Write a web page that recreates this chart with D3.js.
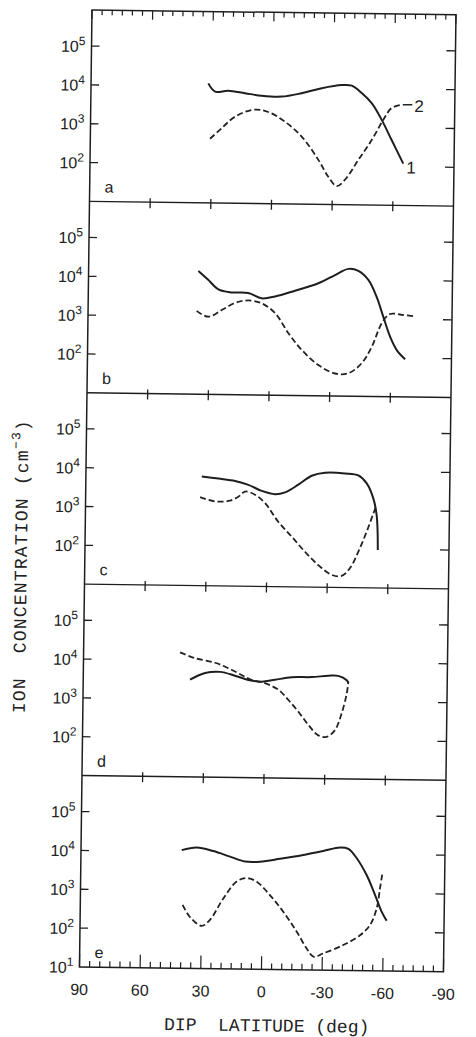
<!DOCTYPE html>
<html>
<head>
<meta charset="utf-8">
<script src="https://cdn.jsdelivr.net/npm/d3@7"></script>
<style>
    html, body { margin: 0; padding: 0; background: #fff; }
    svg { display: block; }
    text { font-family: "Liberation Sans", Arial, sans-serif; fill: #222; }
    .mono { font-family: "Liberation Mono", "DejaVu Sans Mono", monospace; }
</style>
</head>
<body>
<div id="chart"></div>
<script>
// Ion concentration vs dip latitude, five stacked panels (a-e).
// Values are [dip latitude (deg), concentration (cm^-3)].

const latTicks = [90, 60, 30, 0, -30, -60, -90];
const decadeTicks = [1e2, 1e3, 1e4, 1e5];
const panelLetters = ['a', 'b', 'c', 'd', 'e'];

const aSolid = [[32.0, 12000], [28.6, 7400], [22.1, 7900], [13.8, 6900], [5.5, 6000], [-4.4, 5800],
    [-14.2, 7200], [-24.1, 9800], [-34.0, 12000], [-38.9, 11700], [-43.9, 7600], [-48.9, 4200],
    [-53.9, 1600], [-59.0, 480], [-64.9, 120]];
const aDashed = [[30.8, 450], [25.1, 850], [18.6, 1700], [9.6, 2600], [2.2, 2300], [-6.2, 1300],
    [-14.5, 550], [-22.9, 140], [-27.9, 52], [-32.1, 30], [-36.2, 44], [-42.7, 145], [-49.2, 480],
    [-54.8, 1600], [-58.8, 3200], [-63.7, 3900]];

const bSolid = [[35.7, 15000], [30.8, 8900], [25.7, 5100], [19.1, 4300], [10.9, 4200], [4.2, 3100],
    [-2.4, 3500], [-12.2, 5000], [-23.7, 7900], [-31.9, 13000], [-38.4, 19000], [-43.4, 17000],
    [-48.4, 10000], [-52.6, 3700], [-56.0, 1150], [-59.5, 355], [-62.9, 160], [-67.1, 93]];
const bDashed = [[36.3, 1400], [30.5, 1000], [23.9, 1500], [17.4, 2300], [10.8, 2700], [4.2, 2300],
    [-2.5, 1300], [-9.2, 400], [-15.9, 150], [-24.2, 62], [-32.5, 38], [-39.1, 39], [-45.6, 71],
    [-50.5, 190], [-55.3, 780], [-59.3, 1350], [-65.1, 1300], [-71.7, 1200]];

const cSolid = [[32.7, 6500], [24.5, 5800], [16.2, 5100], [9.6, 4100], [3.0, 2900], [-3.6, 2400],
    [-8.6, 2700], [-15.1, 4300], [-21.7, 7400], [-28.2, 8900], [-38.1, 8700], [-44.7, 7800],
    [-48.9, 4900], [-52.3, 2000], [-54.0, 760], [-54.6, 280], [-54.8, 95]];
const cDashed = [[33.4, 1900], [26.0, 1500], [19.4, 1550], [14.5, 2000], [11.2, 2750], [6.3, 2300],
    [1.2, 1400], [-5.4, 470], [-12.2, 195], [-18.8, 81], [-25.5, 37], [-32.2, 21], [-37.1, 20],
    [-41.2, 32], [-45.2, 85], [-49.2, 280], [-52.4, 830], [-54.0, 1400]];

const dSolid = [[37.2, 3200], [29.8, 4800], [22.4, 5200], [15.0, 4200], [8.4, 3300], [1.7, 3000],
    [-4.8, 3400], [-13.1, 4000], [-22.9, 4100], [-31.2, 4500], [-36.1, 4500], [-40.3, 3500],
    [-41.1, 3000]];
const dDashed = [[42.3, 16000], [34.9, 11500], [24.9, 8900], [18.3, 6500], [11.7, 4400], [6.7, 3300],
    [0.1, 2750], [-6.5, 1900], [-11.5, 1050], [-16.6, 520], [-21.6, 240], [-26.6, 130], [-30.8, 120],
    [-34.8, 180], [-38.0, 490], [-40.4, 1600], [-41.1, 3200]];

const eSolid = [[40.2, 11000], [32.8, 13000], [24.6, 10700], [16.3, 7800], [8.8, 5900], [1.4, 5900],
    [-8.5, 7100], [-20.0, 9100], [-29.8, 11700], [-38.1, 14500], [-42.2, 13500], [-46.4, 7800],
    [-51.4, 2900], [-55.7, 890], [-59.1, 330], [-61.6, 195]];
const eDashed = [[39.4, 430], [35.7, 210], [29.8, 125], [25.8, 180], [19.3, 650], [12.8, 1800],
    [7.9, 2200], [2.9, 1800], [-3.8, 810], [-10.4, 310], [-17.2, 95], [-22.3, 35], [-25.6, 22],
    [-30.5, 27], [-40.3, 45], [-48.5, 81], [-53.4, 150], [-56.6, 410], [-58.1, 1350], [-59.1, 3000]];

const solidSeries = [aSolid, bSolid, cSolid, dSolid, eSolid];
const dashedSeries = [aDashed, bDashed, cDashed, dDashed, eDashed];

// curve labels in panel a: [lat, conc, text]
const curveLabels = [[-72.3, 3700, '2'], [-68.8, 95, '1']];
const leader2 = [[-64.3, 3950], [-69.0, 3950]];

const width = 476, height = 1037;
const plotLeft = 92, plotTop = 10, plotW = 364, panelH = 191.4;
const ink = '#1e1e1e';

const svg = d3.select('#chart').append('svg')
    .attr('width', width).attr('height', height);

// the scan is turned a little clockwise; do the same to the whole figure
const g = svg.append('g').attr('transform', `rotate(0.75, ${plotLeft}, ${plotTop})`);

const x = d3.scaleLinear().domain([90, -90]).range([plotLeft, plotLeft + plotW]);
const plotBottom = plotTop + 5 * panelH;

function yFor(i) {
    return d3.scaleLog().domain([10, 8.5e5])
        .range([plotTop + (i + 1) * panelH, plotTop + i * panelH]);
}

// outer frame and panel dividers
g.append('rect')
    .attr('x', plotLeft).attr('y', plotTop).attr('width', plotW).attr('height', 5 * panelH)
    .attr('fill', 'none').attr('stroke', ink).attr('stroke-width', 1.5);

for (let i = 1; i < 5; i++) {
    const yy = plotTop + i * panelH;
    g.append('line').attr('x1', plotLeft).attr('x2', plotLeft + plotW)
        .attr('y1', yy).attr('y2', yy)
        .attr('stroke', ink).attr('stroke-width', 1.4);
    latTicks.slice(1, -1).forEach(t => {
        g.append('line').attr('x1', x(t)).attr('x2', x(t))
            .attr('y1', yy - 4).attr('y2', yy + 6)
            .attr('stroke', ink).attr('stroke-width', 1.3);
    });
}

// minor ticks every 5 deg on the top and bottom edges
const minorLats = d3.range(90, -90.1, -5);
minorLats.forEach(t => {
    const major = t % 30 === 0;
    g.append('line').attr('x1', x(t)).attr('x2', x(t))
        .attr('y1', plotTop).attr('y2', plotTop + (major ? 9 : 5))
        .attr('stroke', ink).attr('stroke-width', 1.2);
    g.append('line').attr('x1', x(t)).attr('x2', x(t))
        .attr('y1', plotBottom).attr('y2', plotBottom - (major ? 13 : 6))
        .attr('stroke', ink).attr('stroke-width', 1.2);
});

const line = d3.line()
    .x(d => x(d[0]))
    .curve(d3.curveCatmullRom.alpha(0.5));

for (let i = 0; i < 5; i++) {
    const y = yFor(i);

    // decade ticks on both sides
    decadeTicks.forEach(v => {
        g.append('line').attr('x1', plotLeft).attr('x2', plotLeft + 8)
            .attr('y1', y(v)).attr('y2', y(v))
            .attr('stroke', ink).attr('stroke-width', 1.3);
        g.append('line').attr('x1', plotLeft + plotW - 9).attr('x2', plotLeft + plotW)
            .attr('y1', y(v)).attr('y2', y(v))
            .attr('stroke', ink).attr('stroke-width', 1.3);
    });

    const labelVals = i === 4 ? [10].concat(decadeTicks) : decadeTicks;
    labelVals.forEach(v => {
        const t = g.append('text')
            .attr('x', plotLeft - 6).attr('y', y(v) + 6)
            .attr('text-anchor', 'end')
            .attr('font-size', 16);
        t.append('tspan').text('10');
        t.append('tspan').attr('font-size', 12).attr('dy', -7)
            .text(Math.round(Math.log10(v)));
    });

    g.append('text')
        .attr('x', plotLeft + 15).attr('y', plotTop + (i + 1) * panelH - 9)
        .attr('font-size', 16)
        .text(panelLetters[i]);

    line.y(d => y(d[1]));

    g.append('path')
        .attr('d', line(solidSeries[i]))
        .attr('fill', 'none').attr('stroke', ink).attr('stroke-width', 2);

    g.append('path')
        .attr('d', line(dashedSeries[i]))
        .attr('fill', 'none').attr('stroke', '#222').attr('stroke-width', 1.8)
        .attr('stroke-dasharray', '6,3');
}

// curve numbers in panel a
const ya = yFor(0);
g.append('path')
    .attr('d', d3.line().x(d => x(d[0])).y(d => ya(d[1]))(leader2))
    .attr('stroke', '#222').attr('stroke-width', 1.5);
curveLabels.forEach(d => {
    g.append('text')
        .attr('x', x(d[0])).attr('y', ya(d[1]) + 6)
        .attr('text-anchor', 'middle')
        .attr('font-size', 17)
        .text(d[2]);
});

// x tick labels
latTicks.forEach(t => {
    g.append('text')
        .attr('x', x(t)).attr('y', plotBottom + 28)
        .attr('text-anchor', 'middle')
        .attr('font-size', 16)
        .text(t < 0 ? '-' + Math.abs(t) : t);
});

// axis titles
g.append('text')
    .attr('class', 'mono')
    .attr('x', 280).attr('y', 1029)
    .attr('text-anchor', 'middle')
    .attr('font-size', 18)
    .style('white-space', 'pre')
    .text('DIP  LATITUDE (deg)');

const yt = g.append('text')
    .attr('class', 'mono')
    .attr('transform', 'translate(34, 714) rotate(-90)')
    .attr('font-size', 18)
    .attr('letter-spacing', 1.2)
    .style('white-space', 'pre');
yt.append('tspan').text('ION  CONCENTRATION (cm');
yt.append('tspan').attr('font-size', 13).attr('dy', -8).text('\u22123');
yt.append('tspan').attr('dy', 8).text(')');
</script>
</body>
</html>
